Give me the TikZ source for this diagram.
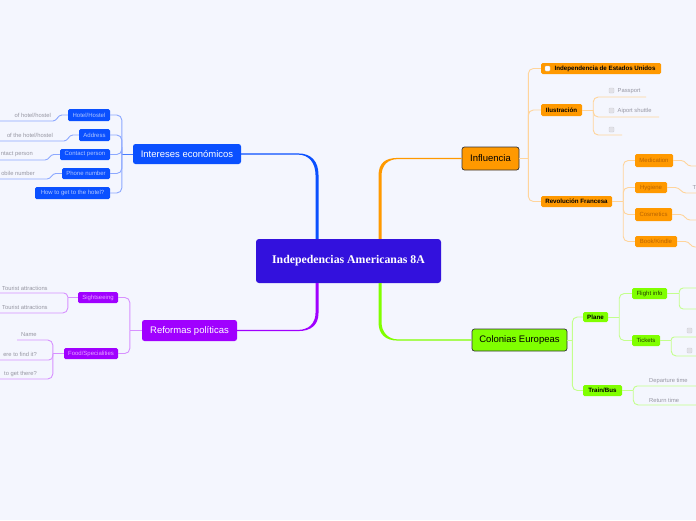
\documentclass[tikz,border=0pt]{standalone}
\usepackage{fontspec}
\setmainfont{Liberation Sans}
\newfontfamily\titlefont{Liberation Serif}
\definecolor{bgc}{RGB}{244,246,254}
\definecolor{centc}{RGB}{51,17,221}
\definecolor{blueM}{RGB}{10,80,255}
\definecolor{blueL}{RGB}{140,168,255}
\definecolor{blueT}{RGB}{175,198,255}
\definecolor{orangeM}{RGB}{255,153,0}
\definecolor{orangeL}{RGB}{255,212,155}
\definecolor{orangeT}{RGB}{185,100,0}
\definecolor{greenM}{RGB}{128,255,0}
\definecolor{greenL}{RGB}{195,255,140}
\definecolor{greenT}{RGB}{35,60,0}
\definecolor{purpM}{RGB}{160,0,255}
\definecolor{purpL}{RGB}{215,145,255}
\definecolor{purpT}{RGB}{228,165,255}
\definecolor{greyT}{RGB}{150,150,162}
\definecolor{darkb}{RGB}{50,50,55}
\definecolor{cbfill}{RGB}{226,226,232}
\definecolor{cbdraw}{RGB}{205,205,212}
\tikzset{
  centbox/.style={rectangle, rounded corners=3pt, inner sep=0pt, fill=centc, text=white,
    minimum width=185pt, minimum height=44pt, font=\titlefont\bfseries\fontsize{11.8}{13}\selectfont},
  topbox/.style={rectangle, rounded corners=2.5pt, inner sep=0pt, font=\fontsize{9.5}{11}\selectfont},
  subbold/.style={rectangle, rounded corners=1.5pt, inner sep=0pt, text=black, font=\bfseries\fontsize{6.2}{7}\selectfont},
  subplain/.style={rectangle, rounded corners=1.5pt, inner sep=0pt, font=\fontsize{6}{7}\selectfont},
  leaf/.style={inner sep=0pt, text=greyT, font=\fontsize{5.8}{7}\selectfont},
  chk/.style={rectangle, rounded corners=0.8pt, inner sep=0pt, minimum width=5pt, minimum height=5pt, fill=cbfill, draw=cbdraw, line width=0.4pt},
  conn/.style={line width=0.9pt, rounded corners=5pt},
  curl/.style={line width=0.9pt},
}
\begin{document}
\begin{tikzpicture}[x=1pt,y=-1pt]
\useasboundingbox (0,0) rectangle (696,520);
\fill[bgc] (0,0) rectangle (696,520);
\clip (0,0) rectangle (696,520);

% ---------- nodes ----------
\node[centbox] (central) at (348.5,261) {Indepedencias Americanas 8A};

\node[topbox, fill=orangeM, draw=darkb, line width=0.7pt, text=black, minimum width=57pt, minimum height=23pt] (infl) at (490.5,158.5) {Influencia};
\node[topbox, fill=greenM, draw=darkb, line width=0.7pt, text=black, minimum width=95pt, minimum height=22pt] (colon) at (519.5,340) {Colonias Europeas};
\node[topbox, fill=blueM, text=white, minimum width=108pt, minimum height=20pt] (inter) at (187,154) {Intereses económicos};
\node[topbox, fill=purpM, text=white, minimum width=95pt, minimum height=21pt] (refor) at (189.5,330.5) {Reformas políticas};

% orange level 2
\node[subbold, fill=orangeM, minimum width=120pt, minimum height=11pt] (indep) at (601,68.5) {\hspace*{8pt}Independencia de Estados Unidos};
\node[chk, fill=white, minimum width=5pt, minimum height=5pt] (indepchk) at (547.5,68.5) {};
\node[subbold, fill=orangeM, minimum width=41pt, minimum height=12pt] (ilus) at (561.5,110) {Ilustración};
\node[subbold, fill=orangeM, minimum width=71pt, minimum height=11pt] (revol) at (576.5,201.5) {Revolución Francesa};

% orange level 3
\node[subplain, fill=orangeM, text=orangeT, minimum width=38pt, minimum height=13pt] (med) at (654,160.5) {Medication};
\node[subplain, fill=orangeM, text=orangeT, minimum width=32pt, minimum height=11pt] (hyg) at (651,187.5) {Hygiene};
\node[subplain, fill=orangeM, text=orangeT, minimum width=37pt, minimum height=13pt] (cos) at (653.5,214.5) {Cosmetics};
\node[subplain, fill=orangeM, text=orangeT, minimum width=42pt, minimum height=11pt] (book) at (656,241.5) {Book/Kindle};

% ilustracion leaves
\node[chk] (c1) at (611.5,90.5) {};
\node[leaf, anchor=west] (passport) at (617.5,90.8) {Passport};
\node[chk] (c2) at (611.5,110.5) {};
\node[leaf, anchor=west] (airport) at (617.5,110.8) {Aiport shuttle};
\node[chk] (c3) at (611.5,129.5) {};
\coordinate (u1) at (646,97);
\coordinate (u2) at (659,117);
\coordinate (u3) at (622,135);

% green level 2/3
\node[subbold, fill=greenM, minimum width=25pt, minimum height=10pt] (plane) at (595.5,317) {Plane};
\node[subbold, fill=greenM, minimum width=39pt, minimum height=11pt] (train) at (602.5,390.5) {Train/Bus};
\node[subplain, fill=greenM, text=greenT, minimum width=35pt, minimum height=11pt] (flight) at (649.5,293.5) {Flight info};
\node[subplain, fill=greenM, text=greenT, minimum width=28pt, minimum height=11pt] (tickets) at (646,340.5) {Tickets};
\node[chk] (c4) at (689.5,330.5) {};
\node[chk] (c5) at (689.5,350.5) {};
\node[leaf, anchor=west] (dep) at (649,380.5) {Departure time};
\node[leaf, anchor=west] (ret) at (649,400) {Return time};

% blue level 2
\node[subplain, fill=blueM, text=blueT, minimum width=42pt, minimum height=12pt] (hotel) at (89,115) {Hotel/Hostel};
\node[subplain, fill=blueM, text=blueT, minimum width=31pt, minimum height=12pt] (address) at (94.5,135) {Address};
\node[subplain, fill=blueM, text=blueT, minimum width=50pt, minimum height=11pt] (contact) at (85,154.5) {Contact person};
\node[subplain, fill=blueM, text=blueT, minimum width=48pt, minimum height=11pt] (phone) at (86,173.5) {Phone number};
\node[subplain, fill=blueM, text=blueT, minimum width=75pt, minimum height=12pt] (howto) at (72.5,193) {How to get to the hotel?};
\node[leaf, anchor=east] (t1) at (51,115) {of hotel/hostel};
\node[leaf, anchor=east] (t2) at (53,135) {of the hotel/hostel};
\node[leaf, anchor=east] (t3) at (33,154.5) {ntact person};
\node[leaf, anchor=east] (t4) at (35,173.5) {obile number};

% purple level 2
\node[subplain, fill=purpM, text=purpT, minimum width=40pt, minimum height=11pt] (sight) at (98,297.5) {Sightseeing};
\node[subplain, fill=purpM, text=purpT, minimum width=54pt, minimum height=11pt] (food) at (91,353.5) {Food/Specialities};
\node[leaf, anchor=west] (ta1) at (2,288) {Tourist attractions};
\node[leaf, anchor=west] (ta2) at (2,307.5) {Tourist attractions};
\node[leaf, anchor=west] (nm) at (21,334.5) {Name};
\node[leaf, anchor=east] (wh) at (37,354.5) {ere to find it?};
\node[leaf, anchor=east] (hw) at (37,373.5) {to get there?};

% ---------- main tapered branches ----------
\fill[blueM] ([yshift=0.6pt]inter.east) -- (298,153.4) .. controls (311,153.4) and (318.5,161) .. (318.5,175) -- (318.5,0 |- central.north) -- (315.5,0 |- central.north) -- (315.5,175) .. controls (315.5,163) and (309,154.6) .. (298,154.6) -- ([yshift=-0.6pt]inter.east) -- cycle;
\fill[orangeM] ([yshift=0.6pt]infl.west) -- (398,157.9) .. controls (385,157.9) and (378.5,163) .. (378.5,176) -- (378.5,0 |- central.north) -- (381.5,0 |- central.north) -- (381.5,176) .. controls (381.5,165) and (388,159.1) .. (398,159.1) -- ([yshift=-0.6pt]infl.west) -- cycle;
\fill[purpM] ([yshift=-0.6pt]refor.east) -- (298,331.1) .. controls (311,331.1) and (318.5,325) .. (318.5,313) -- (318.5,0 |- central.south) -- (315.5,0 |- central.south) -- (315.5,313) .. controls (315.5,323) and (309,329.9) .. (298,329.9) -- ([yshift=0.6pt]refor.east) -- cycle;
\fill[greenM] ([yshift=-0.6pt]colon.west) -- (398,340.6) .. controls (385,340.6) and (378.5,334) .. (378.5,322) -- (378.5,0 |- central.south) -- (381.5,0 |- central.south) -- (381.5,322) .. controls (381.5,332) and (388,339.4) .. (398,339.4) -- ([yshift=0.6pt]colon.west) -- cycle;

% ---------- orange connectors ----------
\coordinate (jI) at ([xshift=9pt]infl.east);
\draw[conn, orangeL] (infl.east) -- (jI);
\foreach \n in {indep,ilus,revol}{
  \draw[conn, orangeL] (jI) |- (\n.west);
}
\coordinate (jL) at ([xshift=11pt]ilus.east);
\draw[conn, orangeL] (ilus.east) -- (jL);
\foreach \n in {u1,u2,u3}{
  \draw[conn, orangeL] (jL) |- (\n);
}
\coordinate (jR) at ([xshift=11pt]revol.east);
\draw[conn, orangeL] (revol.east) -- (jR);
\foreach \n in {med,hyg,cos,book}{
  \draw[conn, orangeL] (jR) |- (\n.west);
}
\coordinate (m1) at (700,166);
\coordinate (m2) at (700,193);
\coordinate (m3) at (700,220);
\coordinate (m4) at (700,247);
\draw[curl, orangeL] (med.east) -- ++(8,0) to[out=0,in=180] (691,166) -- (m1);
\draw[curl, orangeL] (hyg.east) -- ++(8,0) to[out=0,in=180] (686,193) -- (m2);
\draw[curl, orangeL] (cos.east) -- ++(8,0) to[out=0,in=180] (690,220) -- (m3);
\draw[curl, orangeL] (book.east) -- ++(8,0) to[out=0,in=180] (695,247) -- (m4);
\node[leaf, anchor=west] (tfrag) at (692.5,187.5) {T};

% ---------- green connectors ----------
\coordinate (jC) at ([xshift=5pt]colon.east);
\draw[conn, greenL] (colon.east) -- (jC);
\draw[conn, greenL] (jC) |- (plane.west);
\draw[conn, greenL] (jC) |- (train.west);
\coordinate (jP) at ([xshift=11pt]plane.east);
\draw[conn, greenL] (plane.east) -- (jP);
\draw[conn, greenL] (jP) |- (flight.west);
\draw[conn, greenL] (jP) |- (tickets.west);
\coordinate (f1) at (700,288);
\coordinate (f2) at (700,309);
\coordinate (k1) at (700,337);
\coordinate (k2) at (700,356);
\coordinate (d1) at (700,386);
\coordinate (d2) at (700,405);
\coordinate (jF) at ([xshift=12pt]flight.east);
\draw[conn, greenL] (flight.east) -- (jF);
\draw[conn, greenL, rounded corners=4pt] (jF) |- (f1);
\draw[conn, greenL, rounded corners=4pt] (jF) |- (f2);
\coordinate (jT) at ([xshift=11pt]tickets.east);
\draw[conn, greenL] (tickets.east) -- (jT);
\draw[conn, greenL, rounded corners=3pt] (jT) |- (k1);
\draw[conn, greenL] (jT) |- (k2);
\coordinate (jB) at ([xshift=11pt]train.east);
\draw[conn, greenL] (train.east) -- (jB);
\draw[conn, greenL, rounded corners=4pt] (jB) |- (d1);
\draw[conn, greenL] (jB) |- (d2);

% ---------- blue connectors ----------
\coordinate (jE) at ([xshift=-11pt]inter.west);
\draw[conn, blueM!75!white] (inter.west) -- (jE);
\foreach \n in {hotel,address,contact,phone,howto}{
  \draw[conn, blueL] (jE) |- (\n.east);
}
\coordinate (b1) at (-5,121);
\coordinate (b2) at (-5,141);
\coordinate (b3) at (-5,160);
\coordinate (b4) at (-5,179);
\draw[curl, blueL] (hotel.west) -- ++(-6,0) to[out=180,in=0] (53,121) -- (b1);
\draw[curl, blueL] (address.west) -- ++(-6,0) to[out=180,in=0] (64,141) -- (b2);
\draw[curl, blueL] (contact.west) -- ++(-6,0) to[out=180,in=0] (45,160) -- (b3);
\draw[curl, blueL] (phone.west) -- ++(-6,0) to[out=180,in=0] (47,179) -- (b4);

% ---------- purple connectors ----------
\coordinate (jRf) at ([xshift=-12pt]refor.west);
\draw[conn, purpL] (refor.west) -- (jRf);
\draw[conn, purpL] (jRf) |- (sight.east);
\draw[conn, purpL] (jRf) |- (food.east);
\coordinate (p1) at (-5,293);
\coordinate (p2) at (-5,313);
\coordinate (q1) at (17,340);
\coordinate (q2) at (-5,360);
\coordinate (q3) at (-5,379);
\coordinate (jS) at ([xshift=-10pt]sight.west);
\draw[conn, purpL] (sight.west) -- (jS);
\draw[conn, purpL, rounded corners=4pt] (jS) |- (p1);
\draw[conn, purpL] (jS) |- (p2);
\coordinate (jD) at ([xshift=-11pt]food.west);
\draw[conn, purpL] (food.west) -- (jD);
\draw[conn, purpL] (jD) |- (q1);
\draw[conn, purpL, rounded corners=4pt] (jD) |- (q2);
\draw[conn, purpL] (jD) |- (q3);
\end{tikzpicture}
\end{document}
